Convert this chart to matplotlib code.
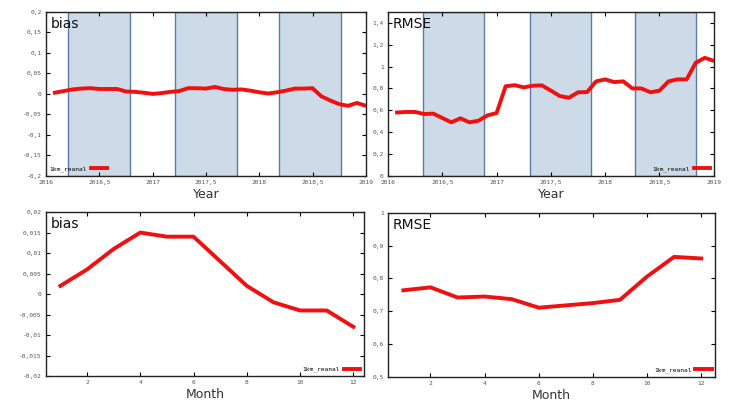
import numpy as np
import matplotlib
matplotlib.use("Agg")
import matplotlib.pyplot as plt

# monthly series, Jan 2016 .. Dec 2018
years = 2016 + np.arange(1, 37) / 12.0
bias_ts = [0.003, 0.007, 0.011, 0.013, 0.014, 0.012, 0.012, 0.012, 0.006,
           0.005, 0.003, 0.000, 0.002, 0.005, 0.007, 0.014, 0.014, 0.013,
           0.017, 0.012, 0.010, 0.011, 0.008, 0.004, 0.001, 0.004, 0.008,
           0.013, 0.013, 0.014, -0.006, -0.016, -0.025, -0.029, -0.022, -0.029]
rmse_ts = [0.58, 0.585, 0.585, 0.566, 0.57, 0.53, 0.49, 0.527, 0.49,
           0.505, 0.554, 0.575, 0.82, 0.83, 0.81, 0.825, 0.828, 0.78,
           0.73, 0.715, 0.765, 0.767, 0.865, 0.883, 0.858, 0.865, 0.80,
           0.80, 0.765, 0.78, 0.865, 0.883, 0.883, 1.035, 1.08, 1.053]

# shaded periods (as drawn in each panel)
bias_spans = [(2016.21, 2016.785), (2017.21, 2017.79), (2018.19, 2018.77)]
rmse_spans = [(2016.32, 2016.887), (2017.307, 2017.871), (2018.273, 2018.834)]

months = np.arange(1, 13)
bias_mon = [0.002, 0.006, 0.011, 0.015, 0.014, 0.014, 0.008, 0.002,
            -0.002, -0.004, -0.004, -0.008]
rmse_mon = [0.764, 0.773, 0.742, 0.745, 0.737, 0.711, 0.718, 0.725,
            0.735, 0.806, 0.866, 0.861]

LABEL = "1km_reanal"
RED = "#f01010"
SHADE = "#cddbe8"
EDGE = "#5b7ba6"


def comma(v):
    v = round(float(v), 6)
    s = f"{v:g}"
    return "0" if s in ("0", "-0") else s.replace(".", ",")


def style_ax(ax, xt, yt, name, xlabel, legend_loc):
    ax.set_xticks(xt)
    ax.set_xticklabels([comma(v) for v in xt])
    ax.set_yticks(yt)
    ax.set_yticklabels([comma(v) for v in yt])
    ax.tick_params(direction="in", length=3, width=0.8, top=True, right=True,
                   labelsize=4.5, labelcolor="#555555", pad=3)
    for lab in ax.get_xticklabels() + ax.get_yticklabels():
        lab.set_family("DejaVu Sans Mono")
    for sp in ax.spines.values():
        sp.set_linewidth(1.0)
        sp.set_color("#222222")
    ax.text(0.015, 0.97, name, transform=ax.transAxes, ha="left", va="top",
            fontsize=10, color="#111111", zorder=5)
    ax.set_xlabel(xlabel, fontsize=9, color="#333333", labelpad=2)
    ax.legend(loc=legend_loc, frameon=False, markerfirst=False,
              prop={"family": "DejaVu Sans Mono", "size": 4.5},
              handlelength=2.6, borderaxespad=0.2, handletextpad=0.6)


fig = plt.figure(figsize=(7.49, 4.11), dpi=100)
ax1 = fig.add_axes([0.0614, 0.572, 0.427, 0.399])
ax2 = fig.add_axes([0.518, 0.572, 0.435, 0.399])
ax3 = fig.add_axes([0.0614, 0.085, 0.4246, 0.399])
ax4 = fig.add_axes([0.518, 0.083, 0.437, 0.399])

for a, b in bias_spans:
    ax1.axvspan(a, b, facecolor=SHADE, edgecolor=EDGE, linewidth=1.0, zorder=1)
ax1.plot(years, bias_ts, color=RED, lw=2.8, label=LABEL, zorder=3)
ax1.set_xlim(2016, 2019)
ax1.set_ylim(-0.2, 0.2)
style_ax(ax1, np.arange(2016, 2019.01, 0.5), np.arange(-0.2, 0.201, 0.05),
         "bias", "Year", "lower left")

for a, b in rmse_spans:
    ax2.axvspan(a, b, facecolor=SHADE, edgecolor=EDGE, linewidth=1.0, zorder=1)
ax2.plot(years, rmse_ts, color=RED, lw=2.8, label=LABEL, zorder=3)
ax2.set_xlim(2016, 2019)
ax2.set_ylim(0, 1.5)
style_ax(ax2, np.arange(2016, 2019.01, 0.5), np.arange(0, 1.41, 0.2),
         "RMSE", "Year", "lower right")

ax3.plot(months, bias_mon, color=RED, lw=2.8, label=LABEL)
ax3.set_xlim(0.46, 12.4)
ax3.set_ylim(-0.02, 0.02)
style_ax(ax3, np.arange(2, 13, 2), np.arange(-0.02, 0.0201, 0.005),
         "bias", "Month", "lower right")

ax4.plot(months, rmse_mon, color=RED, lw=2.8, label=LABEL)
ax4.set_xlim(0.43, 12.52)
ax4.set_ylim(0.5, 1.0)
style_ax(ax4, np.arange(2, 13, 2), np.arange(0.5, 1.001, 0.1),
         "RMSE", "Month", "lower right")

fig.savefig("out.png", dpi=100)
